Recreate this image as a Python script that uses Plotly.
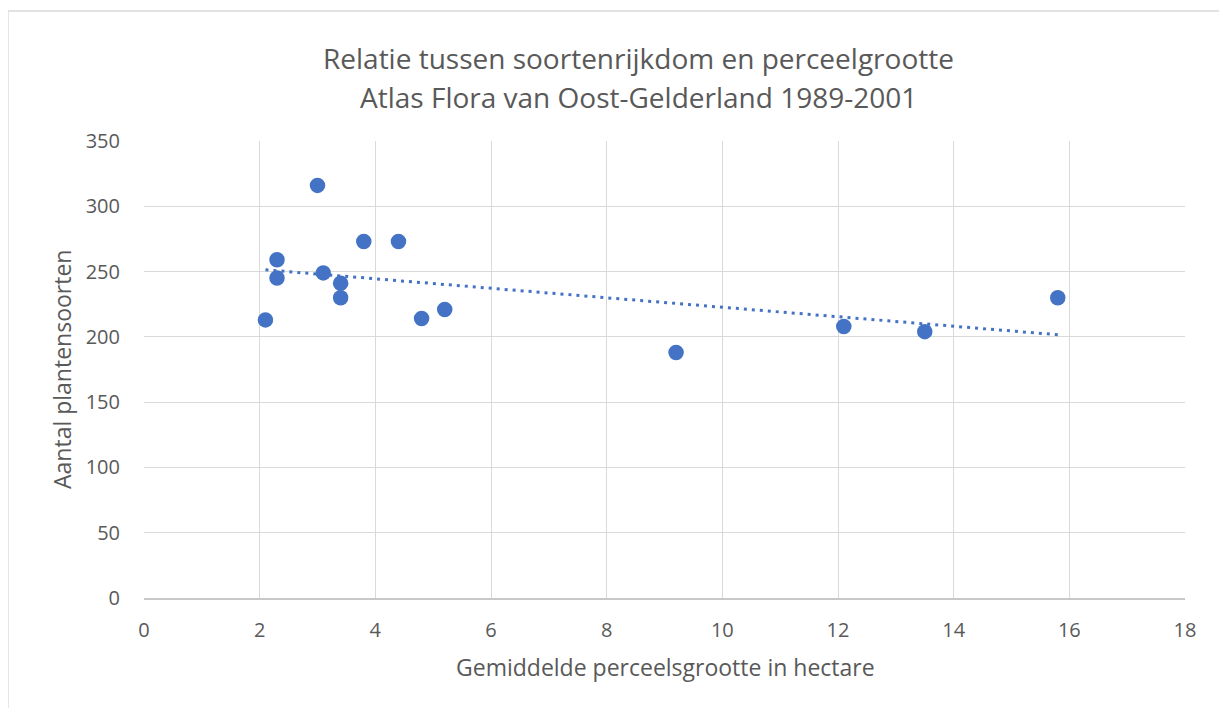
import numpy as np
import plotly.graph_objects as go

# data
perceelgrootte = [2.1, 2.3, 2.3, 3.0, 3.1, 3.4, 3.4, 3.8, 4.4, 4.8, 5.2, 9.2, 12.1, 13.5, 15.8]
soorten =        [213, 259, 245, 316, 249, 241, 230, 273, 273, 214, 221, 188, 208, 204, 230]
x_ticks = [0, 2, 4, 6, 8, 10, 12, 14, 16, 18]
y_ticks = [0, 50, 100, 150, 200, 250, 300, 350]

title_lines = ["Relatie tussen soortenrijkdom en perceelgrootte",
               "Atlas Flora van Oost-Gelderland 1989-2001"]
x_title = "Gemiddelde perceelsgrootte in hectare"
y_title = "Aantal plantensoorten"

OFF = 8  # page body margin
W, H = 1227 - OFF, 708 - OFF
L = 144 - OFF
T = 141 - OFF
PR = 1185  # page x of plot right
PB = 598   # page y of plot bottom
R = W - (PR - OFF)
B = H - (PB - OFF)
pw, ph = W - L - R, H - T - B

def px(xp):
    return (xp - OFF - L) / pw

def py(yp):
    return (H - B - (yp - OFF)) / ph

FONT = "Open Sans"
BLUE = "#4472C4"
GRAY = "#595959"
GRID = "#d9d9d9"

xa = np.array(perceelgrootte)
ya = np.array(soorten)
slope, icpt = np.polyfit(xa, ya, 1)
tx = np.linspace(xa.min(), xa.max(), 50)
ty = slope * tx + icpt

fig = go.Figure()
fig.add_trace(go.Scatter(x=tx, y=ty, mode="lines",
                         line=dict(color=BLUE, width=3, dash="3px,5px"),
                         hoverinfo="skip", showlegend=False))
fig.add_trace(go.Scatter(x=perceelgrootte, y=soorten, mode="markers",
                         marker=dict(color=BLUE, size=15.5, line=dict(width=0)),
                         showlegend=False))

fig.update_layout(
    width=W, height=H,
    margin=dict(l=L, r=R, t=T, b=B, pad=0),
    paper_bgcolor="white", plot_bgcolor="white",
    font=dict(family=FONT, color=GRAY, size=20),
    xaxis=dict(range=[0, 18], tickvals=x_ticks, showgrid=True, gridcolor=GRID,
               gridwidth=1.3, zeroline=False, showline=True, linecolor="#c8c8c8",
               linewidth=1.5, ticks="", ticklabelstandoff=13,
               tickfont=dict(size=20, color=GRAY, family=FONT)),
    yaxis=dict(range=[0, 350], tickvals=y_ticks, showgrid=True, gridcolor=GRID,
               gridwidth=1.3, zeroline=False, showline=False, ticks="",
               ticklabelstandoff=23,
               tickfont=dict(size=20, color=GRAY, family=FONT)),
)

# chart-area border (partly outside the view, as in reference)
fig.add_shape(type="line", xref="paper", yref="paper",
              x0=px(8), y0=py(11), x1=px(1240), y1=py(11),
              line=dict(color=GRID, width=1.3))
fig.add_shape(type="line", xref="paper", yref="paper",
              x0=px(8), y0=py(11), x1=px(8), y1=py(720),
              line=dict(color=GRID, width=1.3))

fig.add_annotation(xref="paper", yref="paper", x=px(638), y=py(58),
                   text=title_lines[0], showarrow=False,
                   font=dict(size=28, color=GRAY, family=FONT),
                   xanchor="center", yanchor="middle")
fig.add_annotation(xref="paper", yref="paper", x=px(638), y=py(97),
                   text=title_lines[1], showarrow=False,
                   font=dict(size=28, color=GRAY, family=FONT),
                   xanchor="center", yanchor="middle")
fig.add_annotation(xref="paper", yref="paper", x=px(665), y=py(667),
                   text=x_title, showarrow=False,
                   font=dict(size=23, color=GRAY, family=FONT),
                   xanchor="center", yanchor="middle")
fig.add_annotation(xref="paper", yref="paper", x=px(62), y=py(370),
                   text=y_title, showarrow=False, textangle=-90,
                   font=dict(size=23, color=GRAY, family=FONT),
                   xanchor="center", yanchor="middle")

fig.write_html("out.html")
